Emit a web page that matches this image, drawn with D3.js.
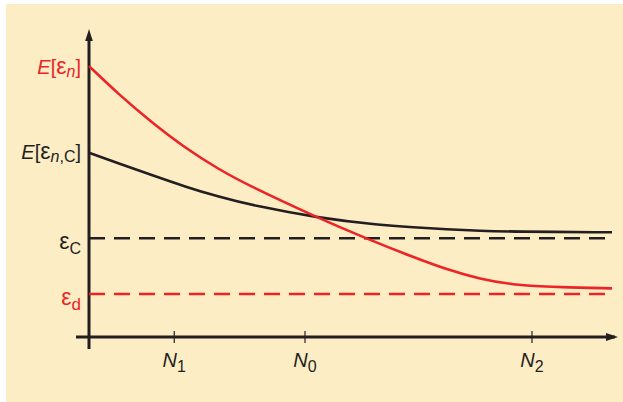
<!DOCTYPE html>
<html>
<head>
<meta charset="utf-8">
<script src="https://cdn.jsdelivr.net/npm/d3@7"></script>
<style>
body { margin: 0; background: #fff; }
svg { display: block; }
text { font-family: "Liberation Sans", Arial, sans-serif; }
</style>
</head>
<body>
<div id="chart"></div>
<script>
// expected error of the individual nets (red) and of the committee (black)
var nX = [0, 5.6, 12.0, 18.4, 24.7, 30.5, 43.8, 52.8, 62.0, 68.4, 74.8, 81.1, 87.5, 100];
var nY = [90.3, 81.0, 71.5, 63.0, 56.0, 50.5, 39.7, 33.0, 26.6, 22.5, 19.3, 17.4, 16.7, 16.2];

var cX = [0, 5.6, 12.0, 18.4, 24.7, 31.7, 43.8, 55.6, 62.0, 68.4, 74.8, 81.1, 100];
var cY = [61.4, 57.9, 54.0, 50.1, 46.8, 43.7, 39.7, 37.3, 36.6, 35.9, 35.4, 35.1, 34.9];

// asymptotic levels
var epsC = 32.9;
var epsD = 14.3;

// x ticks
var tickSub = ["1", "0", "2"];
var tickPos = [16.3, 41.3, 84.7];

var red = "#ec2327";
var black = "#231f20";

var width = 623;
var height = 402;

var svg = d3.select("#chart").append("svg")
  .attr("width", width)
  .attr("height", height);

svg.append("rect")
  .attr("x", 6)
  .attr("y", 4)
  .attr("width", width - 6)
  .attr("height", height - 4)
  .attr("fill", "#fdedc5");

margin = ({top: 37, right: 11, bottom: 65, left: 89});

x = d3.scaleLinear()
  .domain([0, 100])
  .range([margin.left, width - margin.right]);

y = d3.scaleLinear()
  .domain([0, 100])
  .range([height - margin.bottom, margin.top]);

// axes with arrows
var x0 = x(0), y0 = y(0);

svg.append("line")
  .attr("x1", x0 - 13).attr("x2", width - 8)
  .attr("y1", y0).attr("y2", y0)
  .attr("stroke", black).attr("stroke-width", 3);

svg.append("line")
  .attr("x1", x0).attr("x2", x0)
  .attr("y1", y0 + 12).attr("y2", 36)
  .attr("stroke", black).attr("stroke-width", 3);

svg.append("path")
  .attr("d", `M${width - 5},${y0} L${width - 17},${y0 - 4} L${width - 17},${y0 + 4} Z`)
  .attr("fill", black);

svg.append("path")
  .attr("d", `M${x0},29 L${x0 - 3.8},41 L${x0 + 3.8},41 Z`)
  .attr("fill", black);

// ticks
var ticks = svg.append("g")
  .selectAll("g")
  .data(tickPos)
  .enter().append("g")
  .attr("transform", d => `translate(${x(d)},${y0})`);

ticks.append("line")
  .attr("y1", -6).attr("y2", 6)
  .attr("stroke", black).attr("stroke-width", 1.2);

var tl = ticks.append("text")
  .attr("y", 30)
  .attr("text-anchor", "middle")
  .attr("fill", black)
  .style("font-size", "20px");
tl.append("tspan").style("font-style", "italic").text("N");
tl.append("tspan").attr("dy", 5).style("font-size", "16px").text((d, i) => tickSub[i]);

// dashed levels
svg.append("line")
  .attr("x1", x(0)).attr("x2", x(100))
  .attr("y1", y(epsC)).attr("y2", y(epsC))
  .attr("stroke", black).attr("stroke-width", 2.5)
  .attr("stroke-dasharray", "16,9");

svg.append("line")
  .attr("x1", x(0)).attr("x2", x(100))
  .attr("y1", y(epsD)).attr("y2", y(epsD))
  .attr("stroke", red).attr("stroke-width", 2.5)
  .attr("stroke-dasharray", "16,9");

// curves
line = d3.line()
  .x(d => x(d[0]))
  .y(d => y(d[1]))
  .curve(d3.curveBasis);

svg.append("path")
  .datum(cX.map((v, i) => [v, cY[i]]))
  .attr("fill", "none")
  .attr("stroke", black)
  .attr("stroke-width", 2.6)
  .attr("d", line);

svg.append("path")
  .datum(nX.map((v, i) => [v, nY[i]]))
  .attr("fill", "none")
  .attr("stroke", red)
  .attr("stroke-width", 2.6)
  .attr("d", line);

// y labels
var lx = x0 - 8;

var t1 = svg.append("text")
  .attr("x", lx).attr("y", y(nY[0]) + 8)
  .attr("text-anchor", "end")
  .attr("fill", red)
  .style("font-size", "20px");
t1.append("tspan").style("font-style", "italic").text("E");
t1.append("tspan").text("[");
t1.append("tspan").style("font-size", "23px").text("ε");
t1.append("tspan").attr("dy", 3).style("font-size", "16px").style("font-style", "italic").text("n");
t1.append("tspan").attr("dy", -3).text("]");

var t2 = svg.append("text")
  .attr("x", lx).attr("y", y(cY[0]) + 6)
  .attr("text-anchor", "end")
  .attr("fill", black)
  .style("font-size", "20px");
t2.append("tspan").style("font-style", "italic").text("E");
t2.append("tspan").text("[");
t2.append("tspan").style("font-size", "23px").text("ε");
t2.append("tspan").attr("dy", 3).style("font-size", "16px").style("font-style", "italic").text("n");
t2.append("tspan").style("font-size", "16px").text(",C");
t2.append("tspan").attr("dy", -3).text("]");

var t3 = svg.append("text")
  .attr("x", lx).attr("y", y(epsC) + 11)
  .attr("text-anchor", "end")
  .attr("fill", black)
  .style("font-size", "23px");
t3.append("tspan").text("ε");
t3.append("tspan").attr("dy", 5).style("font-size", "16px").text("C");

var t4 = svg.append("text")
  .attr("x", lx).attr("y", y(epsD) + 11)
  .attr("text-anchor", "end")
  .attr("fill", red)
  .style("font-size", "23px");
t4.append("tspan").text("ε");
t4.append("tspan").attr("dy", 5).style("font-size", "17px").text("d");
</script>
</body>
</html>
